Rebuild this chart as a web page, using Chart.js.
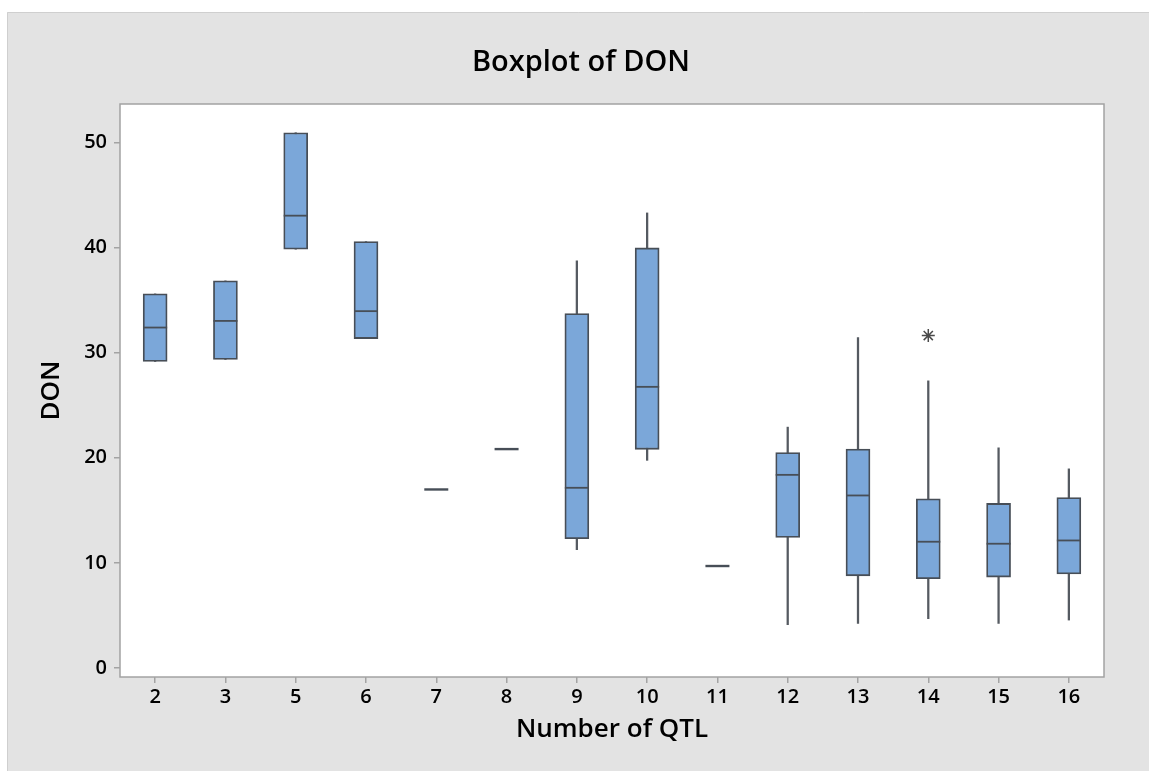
<!DOCTYPE html>
<html>
<head>
<meta charset="utf-8">
<title>Boxplot of DON</title>
<script src="https://cdn.jsdelivr.net/npm/chart.js@4.4.1/dist/chart.umd.min.js"></script>
<style>
  html, body { margin: 0; padding: 0; background: #ffffff; overflow: hidden; }
  canvas { display: block; }
</style>
</head>
<body>
<canvas id="chart" width="1149" height="771"></canvas>
<script>
// Number of QTL groups and the five-number summary of DON for each group
const categories  = ['2', '3', '5', '6', '7', '8', '9', '10', '11', '12', '13', '14', '15', '16'];
const whiskerLow  = [29.15, 29.34, 39.83, 31.33, 16.98, 20.82, 11.25, 19.75, 9.70, 4.12, 4.24, 4.69, 4.24, 4.56];
const q1          = [29.15, 29.34, 39.83, 31.33, 16.98, 20.82, 12.29, 20.80, 9.70, 12.42, 8.77, 8.49, 8.65, 8.94];
const median      = [32.38, 33.01, 43.02, 33.94, 16.98, 20.82, 17.14, 26.74, 9.70, 18.37, 16.41, 12.01, 11.82, 12.13];
const q3          = [35.58, 36.82, 50.91, 40.55, 16.98, 20.82, 33.71, 39.95, 9.70, 20.50, 20.82, 16.09, 15.65, 16.22];
const whiskerHigh = [35.58, 36.82, 50.91, 40.55, 16.98, 20.82, 38.72, 43.28, 9.70, 22.91, 31.43, 27.31, 20.94, 18.94];
const outliers    = [{ x: '14', y: 31.62 }];
const yTicks      = [0, 10, 20, 30, 40, 50];

const boxRanges     = categories.map((_, i) => [q1[i], q3[i]]);
const whiskerRanges = categories.map((_, i) => [whiskerLow[i], whiskerHigh[i]]);

const FONT = "'Open Sans', 'Noto Sans', 'DejaVu Sans', sans-serif";
const BOX_EDGE = '#474e57';
const AXIS_GREY = '#a3a3a3';

// Grey outer panel and white framed plot area
const panelPlugin = {
  id: 'panel',
  beforeDraw(chart) {
    const { ctx, chartArea: a, width, height } = chart;
    ctx.save();
    ctx.fillStyle = '#ffffff';
    ctx.fillRect(0, 0, width, height);
    ctx.fillStyle = '#e3e3e3';
    ctx.fillRect(7, 12, width - 7, height - 12);
    ctx.strokeStyle = '#cfcfcf';
    ctx.lineWidth = 1;
    ctx.beginPath();
    ctx.moveTo(7.5, height);
    ctx.lineTo(7.5, 12.5);
    ctx.lineTo(width, 12.5);
    ctx.stroke();
    ctx.fillStyle = '#ffffff';
    ctx.fillRect(a.left, a.top, a.right - a.left, a.bottom - a.top);
    ctx.strokeStyle = AXIS_GREY;
    ctx.lineWidth = 1.5;
    ctx.strokeRect(a.left, a.top, a.right - a.left, a.bottom - a.top);
    ctx.restore();
  }
};

// Median line across each box, placed through the y scale
const medianPlugin = {
  id: 'medians',
  afterDatasetsDraw(chart) {
    const { ctx } = chart;
    const yScale = chart.scales.y;
    const boxes = chart.getDatasetMeta(0).data;
    ctx.save();
    ctx.strokeStyle = BOX_EDGE;
    boxes.forEach((bar, i) => {
      const y = yScale.getPixelForValue(median[i]);
      const half = bar.width / 2;
      ctx.lineWidth = q1[i] === q3[i] ? 2.4 : 1.8;
      ctx.beginPath();
      ctx.moveTo(bar.x - half, y);
      ctx.lineTo(bar.x + half, y);
      ctx.stroke();
    });
    ctx.restore();
  }
};

new Chart(document.getElementById('chart'), {
  data: {
    labels: categories,
    datasets: [
      {
        type: 'bar',
        label: 'Box',
        data: boxRanges,
        backgroundColor: '#7ba7d9',
        borderColor: BOX_EDGE,
        borderWidth: 1.8,
        borderSkipped: false,
        barThickness: 24,
        grouped: false,
        order: 0,
        xAxisID: 'x',
        yAxisID: 'y'
      },
      {
        type: 'bar',
        label: 'Whisker',
        data: whiskerRanges,
        backgroundColor: '#555a61',
        borderWidth: 0,
        barThickness: 1.6,
        grouped: false,
        order: 1,
        xAxisID: 'x',
        yAxisID: 'y'
      },
      {
        type: 'line',
        label: 'Outlier',
        data: outliers,
        showLine: false,
        pointStyle: 'star',
        pointRadius: 6.5,
        borderColor: '#4a4a4a',
        backgroundColor: '#4a4a4a',
        borderWidth: 1.5,
        order: -1,
        xAxisID: 'x',
        yAxisID: 'y'
      }
    ]
  },
  options: {
    responsive: false,
    animation: false,
    events: [],
    layout: { padding: { left: 13, top: 12, right: 0, bottom: 0 } },
    plugins: {
      legend: { display: false },
      tooltip: { enabled: false },
      title: {
        display: true,
        text: 'Boxplot of DON',
        color: '#000000',
        font: { family: FONT, size: 29, weight: '600' },
        padding: { top: 33.5, bottom: 23.7 }
      }
    },
    scales: {
      x: {
        type: 'category',
        position: 'bottom',
        offset: true,
        grid: {
          display: true,
          offset: false,
          drawOnChartArea: false,
          drawTicks: true,
          tickLength: 6,
          color: AXIS_GREY,
          lineWidth: 1.5
        },
        border: { display: false },
        ticks: {
          color: '#000000',
          font: { family: FONT, size: 20, weight: '600' },
          padding: 2,
          maxRotation: 0,
          autoSkip: false
        },
        title: {
          display: true,
          text: 'Number of QTL',
          color: '#000000',
          font: { family: FONT, size: 26, weight: '600' },
          padding: { top: 0, bottom: 26 }
        },
        afterFit(scale) { scale.height = 94; }
      },
      y: {
        type: 'linear',
        position: 'left',
        min: -0.855,
        max: 53.64,
        afterBuildTicks(scale) { scale.ticks = yTicks.map(v => ({ value: v })); },
        grid: {
          display: true,
          drawOnChartArea: false,
          drawTicks: true,
          tickLength: 6,
          color: AXIS_GREY,
          lineWidth: 1.5
        },
        border: { display: false },
        ticks: {
          color: '#000000',
          font: { family: FONT, size: 20, weight: '600' },
          padding: 7
        },
        title: {
          display: true,
          text: 'DON',
          color: '#000000',
          font: { family: FONT, size: 26, weight: '600' },
          padding: { top: 23, bottom: 0 }
        },
        afterFit(scale) { scale.width = 107; }
      },
      // empty right-hand axis reserving the margin beside the plot frame
      yRight: {
        type: 'linear',
        position: 'right',
        display: true,
        grid: { display: false },
        border: { display: false },
        ticks: { display: false },
        afterFit(scale) { scale.width = 45; }
      }
    }
  },
  plugins: [panelPlugin, medianPlugin]
});
</script>
</body>
</html>
